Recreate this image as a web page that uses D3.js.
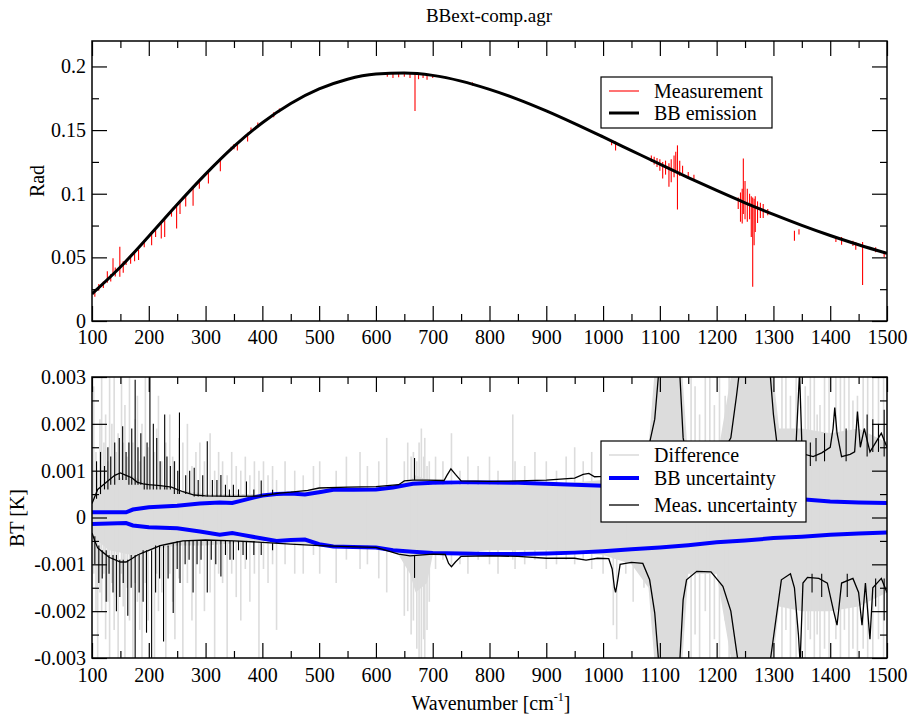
<!DOCTYPE html>
<html>
<head>
<meta charset="utf-8">
<script src="https://cdn.jsdelivr.net/npm/d3@7"></script>
<style>
  body { margin: 0; background: #fff; }
</style>
</head>
<body>
<svg id="chart" width="912" height="720"></svg>
<script>
const FONT = '"Liberation Serif", "Times New Roman", serif';

// ---- top panel: radiance ----
const bbWn = [100, 150, 200, 250, 300, 350, 400, 450, 500, 550, 600, 650, 700, 750, 800,
  850, 900, 950, 1000, 1050, 1100, 1150, 1200, 1250, 1300, 1350, 1400, 1450, 1500];
const bbRad = [0.0213, 0.0424, 0.0666, 0.0915, 0.1154, 0.1372, 0.1558, 0.1709, 0.1823, 0.1900,
  0.1940, 0.1949, 0.1930, 0.1885, 0.1820, 0.1742, 0.1651, 0.1551, 0.1446, 0.1339, 0.1232,
  0.1127, 0.1026, 0.0929, 0.0838, 0.0752, 0.0672, 0.0599, 0.0531];

const measSpikes = [
  [105, 0.019, 0.025], [112, 0.024, 0.029], [120, 0.026, 0.031], [127, 0.030, 0.039],
  [133, 0.031, 0.037], [137, 0.036, 0.0494], [141, 0.035, 0.042], [149, 0.0347, 0.0583],
  [155, 0.038, 0.047], [160, 0.044, 0.048], [168, 0.045, 0.052], [175, 0.047, 0.054],
  [182, 0.048, 0.056], [192, 0.058, 0.062], [205, 0.0596, 0.069], [212, 0.066, 0.072],
  [222, 0.0648, 0.078], [228, 0.066, 0.080], [240, 0.082, 0.087], [249, 0.0727, 0.090],
  [255, 0.084, 0.094], [265, 0.090, 0.098], [278, 0.0905, 0.106], [289, 0.104, 0.111],
  [305, 0.108, 0.118], [326, 0.1177, 0.127], [345, 0.134, 0.137], [350, 0.135, 0.139],
  [356, 0.134, 0.140], [374, 0.141, 0.148], [380, 0.149, 0.152], [392, 0.152, 0.156],
  [420, 0.160, 0.164], [430, 0.164, 0.167],
  [620, 0.192, 0.1955], [630, 0.191, 0.195], [640, 0.1915, 0.1955], [650, 0.192, 0.1952],
  [660, 0.191, 0.1952], [668.8, 0.165, 0.195], [675, 0.190, 0.195], [683, 0.191, 0.1945],
  [690, 0.1895, 0.1935], [700, 0.191, 0.193], [770, 0.185, 0.1875],
  [1015, 0.138, 0.141], [1022, 0.134, 0.141],
  [1085, 0.125, 0.130], [1090, 0.123, 0.129], [1095, 0.121, 0.128], [1100, 0.118, 0.127],
  [1105, 0.112, 0.125], [1110, 0.115, 0.126], [1116, 0.1054, 0.124], [1120, 0.109, 0.127],
  [1125, 0.113, 0.130], [1128, 0.118, 0.133], [1131, 0.0876, 0.138], [1135, 0.114, 0.126],
  [1140, 0.116, 0.122], [1150, 0.112, 0.117], [1160, 0.111, 0.115],
  [1238, 0.088, 0.097], [1242, 0.078, 0.101], [1245, 0.0766, 0.104], [1247, 0.084, 0.1276],
  [1250, 0.080, 0.110], [1254, 0.078, 0.104], [1258, 0.080, 0.100], [1261, 0.066, 0.098],
  [1263.5, 0.0269, 0.097], [1266, 0.0596, 0.096], [1268, 0.070, 0.098], [1272, 0.077, 0.094],
  [1277, 0.081, 0.093], [1282, 0.081, 0.092], [1290, 0.083, 0.088],
  [1337, 0.063, 0.071], [1345, 0.068, 0.072], [1410, 0.062, 0.066], [1420, 0.060, 0.066],
  [1440, 0.059, 0.063], [1445, 0.056, 0.062], [1457, 0.0282, 0.062], [1480, 0.054, 0.058],
  [1495, 0.050, 0.055]
];

// ---- bottom panel: brightness temperature ----
// dense part of the difference band: [wavenumber, high, low]
const diffBand = [
  [100, 0.0004, -0.0004], [130, 0.0008, -0.0007], [170, 0.0009, -0.0008], [200, 0.0007, -0.0007],
  [250, 0.0006, -0.0006], [300, 0.0005, -0.0006], [400, 0.0005, -0.0005], [500, 0.0006, -0.0006],
  [600, 0.0006, -0.0006], [640, 0.0007, -0.0008], [660, 0.0008, -0.0012], [670, 0.0009, -0.0016],
  [690, 0.0008, -0.0014], [700, 0.0007, -0.0008], [800, 0.0007, -0.0007], [900, 0.0007, -0.0007],
  [1000, 0.0008, -0.0008], [1050, 0.0010, -0.0010], [1080, 0.0015, -0.0015], [1090, 0.0030, -0.0030],
  [1140, 0.0030, -0.0030], [1150, 0.0012, -0.0012], [1200, 0.0012, -0.0012], [1225, 0.0030, -0.0030],
  [1300, 0.0030, -0.0030], [1310, 0.0019, -0.0019], [1350, 0.0019, -0.0020], [1400, 0.0018, -0.0020],
  [1450, 0.0019, -0.0019], [1500, 0.0016, -0.0016]
];
// single difference lines outside the band: [wavenumber, low, high]
const diffSpikes = [
  [103, -0.0012, 0.0028], [107, -0.0020, 0.0014], [110, -0.0030, 0.0010], [114, -0.0016, 0.0021],
  [117, -0.0020, 0.0030], [121, -0.0012, 0.0016], [124, -0.0026, 0.0022], [128, -0.0018, 0.0012],
  [131, -0.0030, 0.0030], [135, -0.0014, 0.0020], [139, -0.0024, 0.0030], [143, -0.0017, 0.0014],
  [146, -0.0030, 0.0018], [152, -0.0012, 0.0030], [155, -0.0019, 0.0016], [158, -0.0030, 0.0024],
  [162, -0.0015, 0.0013], [166, -0.0022, 0.0030], [172, -0.0030, 0.0016], [176, -0.0014, 0.0021],
  [180, -0.0018, 0.0026], [184, -0.0024, 0.0012], [188, -0.0030, 0.0020], [194, -0.0014, 0.0030],
  [199, -0.0022, 0.0015], [210, -0.0030, 0.0014], [214, -0.0012, 0.0019], [217, -0.0020, 0.0026],
  [223, -0.0016, 0.0012], [230, -0.0030, 0.0016], [237, -0.0012, 0.0022], [242, -0.0018, 0.0013],
  [246, -0.0026, 0.0012], [253, -0.0013, 0.0017], [260, -0.0030, 0.0016], [268, -0.0014, 0.0020],
  [276, -0.0022, 0.0011], [283, -0.0030, 0.0014], [290, -0.0012, 0.0016], [298, -0.0020, 0.0012],
  [308, -0.0016, 0.0018], [316, -0.0030, 0.0010], [323, -0.0012, 0.0014], [330, -0.0014, 0.0012],
  [338, -0.0030, 0.0009], [346, -0.0012, 0.0014], [354, -0.0017, 0.0011], [362, -0.0022, 0.0010],
  [370, -0.0011, 0.0013], [378, -0.0018, 0.0009], [386, -0.0012, 0.0012], [394, -0.0030, 0.0010],
  [402, -0.0011, 0.0012], [410, -0.0014, 0.0009], [418, -0.0010, 0.0011], [425, -0.0024, 0.0008],
  [440, -0.0010, 0.0012], [457, -0.0012, 0.0010], [472, -0.0012, 0.0009], [490, -0.0008, 0.0011],
  [501, -0.0012, 0.0012], [530, -0.0014, 0.0010], [548, -0.0009, 0.0013], [572, -0.0011, 0.0014],
  [585, -0.0010, 0.0011], [605, -0.0013, 0.0012], [619, -0.0016, 0.0017], [650, -0.0021, 0.0012],
  [656, -0.0020, 0.0016], [662, -0.0025, 0.0013], [666, -0.0022, 0.0014], [672, -0.0028, 0.0012],
  [676, -0.0030, 0.0016], [680, -0.0030, 0.0019], [684, -0.0026, 0.0013], [686, -0.0030, 0.0017],
  [690, -0.0024, 0.0011], [694, -0.0018, 0.0012],
  [705, -0.0011, 0.0013], [718, -0.0009, 0.0012], [733, -0.0010, 0.0018], [748, -0.0010, 0.0010],
  [762, -0.0012, 0.0013], [780, -0.0009, 0.0011], [800, -0.0010, 0.0013], [815, -0.0012, 0.0010],
  [841, -0.0009, 0.0022], [845, -0.0011, 0.0012], [862, -0.0010, 0.0011], [880, -0.0009, 0.0014],
  [900, -0.0011, 0.0012], [918, -0.0010, 0.0010], [935, -0.0009, 0.0013], [950, -0.0010, 0.0015],
  [965, -0.0009, 0.0012], [980, -0.0011, 0.0014], [1000, -0.0012, 0.0013], [1018, -0.0023, 0.0012],
  [1024, -0.0026, 0.0010], [1040, -0.0012, 0.0014], [1053, -0.0018, 0.0012], [1072, -0.0015, 0.0016],
  [1155, -0.0030, 0.0030], [1162, -0.0025, 0.0028], [1170, -0.0030, 0.0022], [1180, -0.0020, 0.0030],
  [1188, -0.0030, 0.0030], [1196, -0.0026, 0.0024], [1205, -0.0030, 0.0030], [1215, -0.0022, 0.0026],
  [1222, -0.0030, 0.0030], [1315, -0.0030, 0.0030], [1322, -0.0024, 0.0030], [1330, -0.0030, 0.0026],
  [1340, -0.0030, 0.0030], [1356, -0.0030, 0.0028], [1361, -0.0024, 0.0026], [1365, -0.0026, 0.0030],
  [1372, -0.0030, 0.0030], [1377, -0.0025, 0.0022], [1382, -0.0030, 0.0024], [1390, -0.0028, 0.0030],
  [1398, -0.0030, 0.0030], [1410, -0.0026, 0.0030], [1418, -0.0030, 0.0030], [1425, -0.0024, 0.0030],
  [1433, -0.0030, 0.0030], [1440, -0.0028, 0.0025], [1448, -0.0030, 0.0026], [1458, -0.0028, 0.0030],
  [1466, -0.0030, 0.0030], [1475, -0.0030, 0.0030], [1485, -0.0026, 0.0030], [1494, -0.0030, 0.0030]
];

const bbUncWn = [100, 160, 172, 200, 250, 290, 325, 347, 360, 400, 425, 450, 475, 500, 525, 560, 600,
  630, 665, 700, 750, 800, 850, 900, 950, 1000, 1050, 1100, 1150, 1200, 1250, 1300, 1350, 1400, 1450, 1500];
const bbUncHi = [0.00011, 0.00011, 0.00017, 0.00022, 0.00025, 0.00030, 0.00032, 0.00031, 0.00035,
  0.00047, 0.00050, 0.00051, 0.00049, 0.00054, 0.00059, 0.00059, 0.00060, 0.00064, 0.00072, 0.00074,
  0.00075, 0.00075, 0.00074, 0.00072, 0.00070, 0.00068, 0.00064, 0.00059, 0.00056, 0.00052, 0.00048,
  0.00044, 0.00039, 0.00034, 0.00032, 0.00031];
const bbUncLo = [-0.00014, -0.00012, -0.00017, -0.00021, -0.00023, -0.00030, -0.00037, -0.00033,
  -0.00036, -0.00045, -0.00050, -0.00048, -0.00047, -0.00057, -0.00062, -0.00063, -0.00064, -0.00070,
  -0.00073, -0.00076, -0.00077, -0.00078, -0.00078, -0.00077, -0.00075, -0.00072, -0.00068, -0.00064,
  -0.00059, -0.00053, -0.00049, -0.00044, -0.00041, -0.00037, -0.00034, -0.00032];

const measUncUpper = [
  [100, 0.00030], [105, 0.00045], [110, 0.00060], [120, 0.00070], [130, 0.00080], [140, 0.00090],
  [150, 0.00095], [160, 0.00090], [170, 0.00085], [180, 0.00075], [190, 0.00072], [200, 0.00070],
  [220, 0.00068], [240, 0.00065], [260, 0.00055], [280, 0.00048], [300, 0.00046], [350, 0.00045],
  [400, 0.00046], [430, 0.00052], [450, 0.00054], [480, 0.00058], [500, 0.00063], [550, 0.00065],
  [600, 0.00066], [640, 0.00070], [650, 0.00078], [665, 0.00080], [690, 0.00080], [720, 0.00079],
  [725, 0.00090], [732, 0.00104], [740, 0.00092], [750, 0.00078], [800, 0.00077], [850, 0.00078],
  [900, 0.00080], [950, 0.00084], [965, 0.00092], [975, 0.00094], [985, 0.00087], [1000, 0.00088],
  [1020, 0.00095], [1050, 0.00120], [1070, 0.00130], [1082, 0.00160], [1091, 0.00210], [1098, 0.00310],
  [1135, 0.00310], [1141, 0.00170], [1147, 0.00130], [1165, 0.00115], [1190, 0.00115], [1211, 0.00140],
  [1225, 0.00170], [1235, 0.00260], [1240, 0.00310], [1294, 0.00310], [1300, 0.00220], [1306, 0.00160],
  [1314, 0.00130], [1330, 0.00120], [1340, 0.00160], [1346, 0.00310], [1350, 0.00160], [1355, 0.00135],
  [1370, 0.00130], [1385, 0.00138], [1400, 0.00150], [1405, 0.00190], [1408, 0.00235], [1412, 0.00180],
  [1420, 0.00130], [1435, 0.00135], [1443, 0.00140], [1448, 0.00226], [1453, 0.00150], [1460, 0.00190],
  [1470, 0.00140], [1480, 0.00160], [1490, 0.00180], [1500, 0.00150]
];
const measUncLower = [
  [100, -0.00033], [105, -0.00050], [110, -0.00065], [120, -0.00075], [130, -0.00085], [140, -0.00090],
  [150, -0.00095], [160, -0.00095], [170, -0.00088], [180, -0.00080], [190, -0.00075], [200, -0.00070],
  [220, -0.00060], [240, -0.00055], [260, -0.00050], [300, -0.00048], [350, -0.00050], [400, -0.00053],
  [450, -0.00057], [500, -0.00060], [550, -0.00062], [600, -0.00064], [640, -0.00078], [660, -0.00082],
  [700, -0.00078], [722, -0.00079], [728, -0.00098], [733, -0.00105], [740, -0.00095], [750, -0.00083],
  [800, -0.00082], [850, -0.00083], [900, -0.00087], [950, -0.00087], [970, -0.00091], [990, -0.00087],
  [1010, -0.00088], [1016, -0.00110], [1020, -0.00150], [1022, -0.00160], [1025, -0.00140], [1030, -0.00100],
  [1050, -0.00096], [1070, -0.00098], [1082, -0.00133], [1091, -0.00204], [1098, -0.00310], [1135, -0.00310],
  [1141, -0.00176], [1147, -0.00133], [1165, -0.00115], [1190, -0.00116], [1211, -0.00147], [1225, -0.00200],
  [1238, -0.00310], [1294, -0.00310], [1303, -0.00230], [1314, -0.00133], [1330, -0.00120], [1337, -0.00150],
  [1344, -0.00250], [1347, -0.00310], [1352, -0.00140], [1360, -0.00128], [1380, -0.00130], [1395, -0.00140],
  [1406, -0.00200], [1412, -0.00230], [1420, -0.00140], [1440, -0.00130], [1450, -0.00160], [1456, -0.00230],
  [1462, -0.00140], [1470, -0.00260], [1475, -0.00150], [1490, -0.00130], [1500, -0.00160]
];
// spikes on the measurement uncertainty: [wavenumber, low, high]
const measUncSpikes = [
  [108, 0.0004, 0.0012], [115, 0.0005, 0.0014], [122, 0.0006, 0.0011], [128, 0.0006, 0.0015],
  [133, 0.0007, 0.0013], [140, 0.0007, 0.0016], [148, 0.0008, 0.0017], [154, 0.0008, 0.00195],
  [160, 0.0008, 0.0014], [165, 0.0007, 0.0016], [170, 0.0007, 0.0019], [176, 0.0007, 0.00294],
  [181, 0.0007, 0.0015], [186, 0.0007, 0.0018], [192, 0.0006, 0.0013], [197, 0.0006, 0.0016],
  [202, 0.0006, 0.0031], [208, 0.0006, 0.0020], [214, 0.0006, 0.0017], [220, 0.0006, 0.0012],
  [228, 0.0006, 0.0022], [232, 0.0006, 0.0013], [238, 0.0006, 0.0011], [245, 0.0005, 0.0012],
  [251, 0.0005, 0.0010], [254, 0.0005, 0.00224], [265, 0.0005, 0.0009], [272, 0.0005, 0.0010],
  [280, 0.00045, 0.00106], [287, 0.00045, 0.0008], [295, 0.00045, 0.0009], [303, 0.00045, 0.00163],
  [312, 0.00045, 0.0008], [320, 0.00045, 0.0008], [327, 0.00045, 0.00091], [335, 0.00045, 0.0007],
  [342, 0.00045, 0.0006], [349, 0.00045, 0.0007], [358, 0.00045, 0.0006], [372, 0.00045, 0.00077],
  [385, 0.00045, 0.0006], [398, 0.00046, 0.00079], [418, 0.0005, 0.00059], [668, 0.0008, 0.00127],
  [1365, 0.0011, 0.0016], [1375, 0.0012, 0.0017], [1390, 0.0012, 0.0018], [1428, 0.0012, 0.0019],
  [1465, 0.0013, 0.0022], [1475, 0.0014, 0.0021], [1485, 0.0014, 0.0020], [1495, 0.0013, 0.0023],
  [105, -0.0010, -0.0004], [112, -0.0014, -0.0006], [118, -0.0013, -0.0007], [125, -0.0018, -0.0007],
  [130, -0.0012, -0.0008], [137, -0.0016, -0.0008], [143, -0.0020, -0.0008], [149, -0.0017, -0.0009],
  [155, -0.0014, -0.0009], [163, -0.0021, -0.0009], [169, -0.0015, -0.0008], [176, -0.0031, -0.0008],
  [183, -0.0016, -0.0008], [190, -0.0018, -0.0007], [196, -0.00246, -0.0007], [205, -0.0031, -0.0007],
  [212, -0.0016, -0.0006], [219, -0.0013, -0.0006], [226, -0.00265, -0.0006], [234, -0.0013, -0.0006],
  [243, -0.00204, -0.00055], [250, -0.0011, -0.0005], [255, -0.0014, -0.0005], [264, -0.0010, -0.0005],
  [271, -0.0009, -0.0005], [278, -0.0016, -0.0005], [285, -0.0010, -0.0005], [292, -0.0009, -0.0005],
  [303, -0.0016, -0.0005], [310, -0.0009, -0.0005], [318, -0.0010, -0.0005], [327, -0.00126, -0.0005],
  [335, -0.0008, -0.0005], [343, -0.0009, -0.0005], [349, -0.0009, -0.0005], [358, -0.0007, -0.0005],
  [366, -0.0008, -0.0005], [372, -0.0009, -0.0005], [385, -0.0008, -0.0005], [398, -0.0008, -0.00053],
  [418, -0.0007, -0.00055], [668, -0.00129, -0.0008],
  [1368, -0.0016, -0.0012], [1385, -0.0017, -0.0012], [1430, -0.0017, -0.0012], [1480, -0.0019, -0.0013],
  [1495, -0.0022, -0.0013]
];

const xMajor = d3.range(100, 1501, 100);
const xMinor = d3.range(150, 1500, 100);
const topMajor = [0, 0.05, 0.1, 0.15, 0.2];
const topMinor = [0.025, 0.075, 0.125, 0.175];
const botMajor = [-0.003, -0.002, -0.001, 0, 0.001, 0.002, 0.003];
const botMinor = [-0.0025, -0.0015, -0.0005, 0.0005, 0.0015, 0.0025];

const svg = d3.select("#chart");
const x = d3.scaleLinear().domain([100, 1500]).range([92, 887]);
const yTop = d3.scaleLinear().domain([0, 0.22]).range([321, 41]);
const yBot = d3.scaleLinear().domain([-0.003, 0.003]).range([658, 377]);

function addClip(id, y) {
  svg.append("clipPath").attr("id", id).append("rect")
    .attr("x", 92).attr("y", y.range()[1])
    .attr("width", 795).attr("height", y.range()[0] - y.range()[1]);
}
addClip("clipTop", yTop);
addClip("clipBot", yBot);

function spikes(g, data, y, color, width) {
  g.selectAll(null).data(data).join("line")
    .attr("x1", d => x(d[0])).attr("x2", d => x(d[0]))
    .attr("y1", d => y(d[1])).attr("y2", d => y(d[2]))
    .attr("stroke", color).attr("stroke-width", width);
}

// ---- top plot marks ----
const gTop = svg.append("g").attr("clip-path", "url(#clipTop)");
spikes(gTop, measSpikes, yTop, "#ff0000", 1.1);
gTop.append("path")
  .datum(d3.zip(bbWn, bbRad))
  .attr("d", d3.line().x(d => x(d[0])).y(d => yTop(d[1])).curve(d3.curveMonotoneX))
  .attr("fill", "none").attr("stroke", "#000").attr("stroke-width", 3);

// ---- bottom plot marks ----
const gBot = svg.append("g").attr("clip-path", "url(#clipBot)");
gBot.append("path").datum(diffBand)
  .attr("d", d3.area().x(d => x(d[0])).y0(d => yBot(d[2])).y1(d => yBot(d[1])))
  .attr("fill", "#dcdcdc");
spikes(gBot, diffSpikes, yBot, "#dcdcdc", 1.6);

const lineBot = d3.line().x(d => x(d[0])).y(d => yBot(d[1]));
[bbUncHi, bbUncLo].forEach(vals => {
  gBot.append("path").datum(d3.zip(bbUncWn, vals))
    .attr("d", lineBot)
    .attr("fill", "none").attr("stroke", "#0000ff").attr("stroke-width", 4);
});

spikes(gBot, measUncSpikes, yBot, "#000", 1.1);
[measUncUpper, measUncLower].forEach(pts => {
  gBot.append("path").datum(pts)
    .attr("d", lineBot)
    .attr("fill", "none").attr("stroke", "#000").attr("stroke-width", 1.3);
});

// ---- frames, ticks, labels ----
function styleAxis(g) {
  g.select(".domain").remove();
  g.selectAll("line").attr("stroke", "#000").attr("stroke-width", 1.2);
  g.attr("font-size", 20).attr("font-family", FONT);
  g.selectAll("text").style("font-family", FONT).attr("fill", "#000");
}

function drawFrame(y, major, minor, fmt, xPad) {
  const top = y.range()[1], bot = y.range()[0];
  svg.append("g").attr("transform", `translate(0,${bot})`)
    .call(d3.axisBottom(x).tickValues(xMajor).tickSize(-15).tickSizeOuter(0)
      .tickPadding(xPad).tickFormat(d3.format("d")))
    .call(styleAxis);
  svg.append("g").attr("transform", `translate(0,${bot})`)
    .call(d3.axisBottom(x).tickValues(xMinor).tickSize(-7).tickFormat(""))
    .call(styleAxis);
  svg.append("g").attr("transform", `translate(0,${top})`)
    .call(d3.axisTop(x).tickValues(xMajor).tickSize(-15).tickFormat(""))
    .call(styleAxis);
  svg.append("g").attr("transform", `translate(0,${top})`)
    .call(d3.axisTop(x).tickValues(xMinor).tickSize(-7).tickFormat(""))
    .call(styleAxis);
  svg.append("g").attr("transform", "translate(92,0)")
    .call(d3.axisLeft(y).tickValues(major).tickSize(-15).tickPadding(6).tickFormat(fmt))
    .call(styleAxis);
  svg.append("g").attr("transform", "translate(92,0)")
    .call(d3.axisLeft(y).tickValues(minor).tickSize(-7).tickFormat(""))
    .call(styleAxis);
  svg.append("g").attr("transform", "translate(887,0)")
    .call(d3.axisRight(y).tickValues(major).tickSize(-15).tickFormat(""))
    .call(styleAxis);
  svg.append("g").attr("transform", "translate(887,0)")
    .call(d3.axisRight(y).tickValues(minor).tickSize(-7).tickFormat(""))
    .call(styleAxis);
  svg.append("rect").attr("x", 92).attr("y", top)
    .attr("width", 795).attr("height", bot - top)
    .attr("fill", "none").attr("stroke", "#000").attr("stroke-width", 1.5);
}

drawFrame(yTop, topMajor, topMinor, d => String(+d.toFixed(3)), 9);
drawFrame(yBot, botMajor, botMinor, d => String(+d.toFixed(4)), 10);

function label(sel) {
  return sel.style("font-family", FONT).attr("fill", "#000");
}

// titles
label(svg.append("text")).attr("x", 489).attr("y", 22).attr("text-anchor", "middle")
  .attr("font-size", 19).text("BBext-comp.agr");
label(svg.append("text")).attr("transform", "translate(44,181) rotate(-90)")
  .attr("text-anchor", "middle").attr("font-size", 20).text("Rad");
label(svg.append("text")).attr("transform", "translate(24,518) rotate(-90)")
  .attr("text-anchor", "middle").attr("font-size", 20).text("BT [K]");
const xt = label(svg.append("text")).attr("x", 491).attr("y", 710)
  .attr("text-anchor", "middle").attr("font-size", 20);
xt.append("tspan").text("Wavenumber [cm");
xt.append("tspan").attr("dy", -9).attr("font-size", 12).text("-1");
xt.append("tspan").attr("dy", 9).text("]");

// legends
function legend(box, entries) {
  const g = svg.append("g");
  g.append("rect").attr("x", box[0]).attr("y", box[1]).attr("width", box[2]).attr("height", box[3])
    .attr("fill", "#fff").attr("stroke", "#000").attr("stroke-width", 1.2);
  entries.forEach(e => {
    g.append("line").attr("x1", box[0] + 8).attr("x2", box[0] + 38)
      .attr("y1", e.y).attr("y2", e.y).attr("stroke", e.color).attr("stroke-width", e.w);
    label(g.append("text")).attr("x", box[0] + 53).attr("y", e.y + 7)
      .attr("font-size", 20).text(e.label);
  });
}
legend([601, 77, 171, 51], [
  { label: "Measurement", color: "#ff0000", w: 1.1, y: 91 },
  { label: "BB emission", color: "#000", w: 3, y: 113 }
]);
legend([601, 441, 205, 81], [
  { label: "Difference", color: "#dcdcdc", w: 1.6, y: 455 },
  { label: "BB uncertainty", color: "#0000ff", w: 4, y: 478 },
  { label: "Meas. uncertainty", color: "#000", w: 1.3, y: 505 }
]);
</script>
</body>
</html>
